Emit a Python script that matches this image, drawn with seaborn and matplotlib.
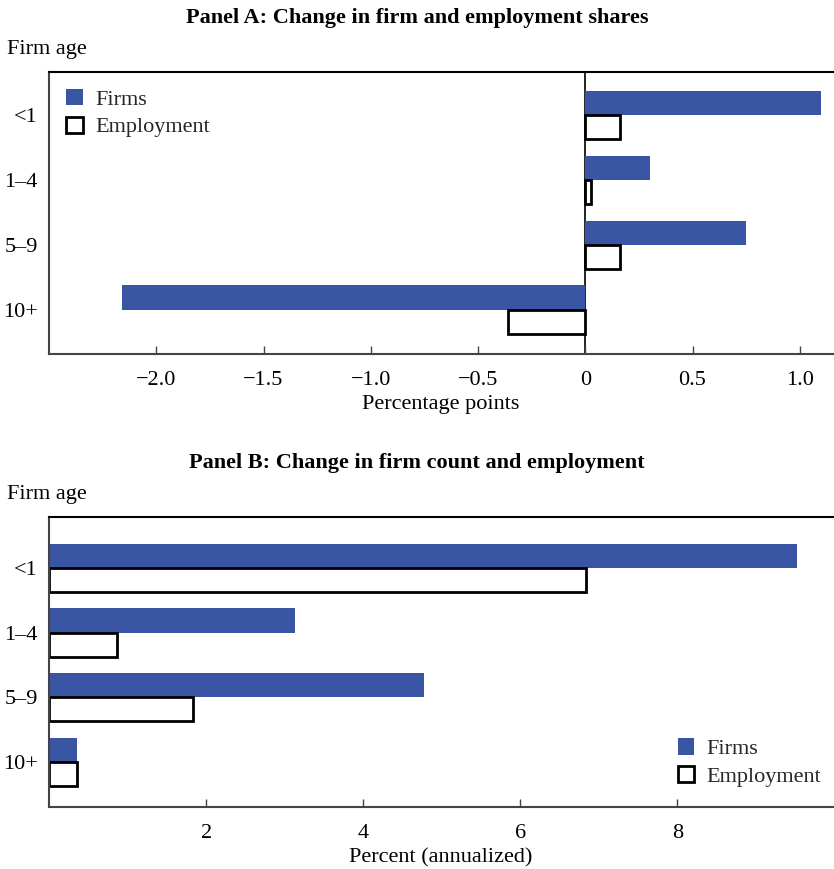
import matplotlib
matplotlib.use("Agg")
import matplotlib.pyplot as plt
from matplotlib.patches import Patch
import seaborn as sns
import pandas as pd

sns.set_theme(style="white")
plt.rcParams["font.family"] = ["Liberation Serif", "DejaVu Serif"]

ages = ["<1", "1\u20134", "5\u20139", "10+"]
series = ["Firms", "Employment"]

# Panel A: change in shares (percentage points)
share_firms = [1.10, 0.30, 0.75, -2.16]
share_emp = [0.16, 0.025, 0.16, -0.36]

# Panel B: change in counts (percent, annualized)
count_firms = [9.52, 3.13, 4.77, 0.36]
count_emp = [6.83, 0.86, 1.83, 0.36]

BLUE = "#3A55A4"
SPINE = "#444444"
FS = 16


def long_frame(firms, emp):
    return pd.DataFrame({
        "age": ages * 2,
        "series": [series[0]] * len(ages) + [series[1]] * len(ages),
        "value": list(firms) + list(emp),
    })


def draw_panel(ax, df, title, xlabel):
    sns.barplot(data=df, y="age", x="value", hue="series", order=ages,
                hue_order=series, orient="h", width=0.75,
                palette={"Firms": BLUE, "Employment": "white"},
                saturation=1, legend=False, ax=ax)
    firm_bars, emp_bars = ax.containers[0], ax.containers[1]
    for p in firm_bars:
        p.set_edgecolor("none")
    for p in emp_bars:
        p.set_edgecolor("black")
        p.set_linewidth(2.0)
    ax.set_ylabel("")
    ax.set_xlabel(xlabel, fontsize=FS, labelpad=4, color="black")
    ax.tick_params(axis="y", length=0, labelsize=FS, pad=8, labelcolor="black")
    ax.tick_params(axis="x", direction="in", length=6, width=1,
                   color=SPINE, labelsize=FS, pad=12, bottom=True,
                   labelcolor="black")
    for side in ["left", "bottom", "top"]:
        ax.spines[side].set_visible(True)
        ax.spines[side].set_color(SPINE)
        ax.spines[side].set_linewidth(1.5)
    ax.spines["top"].set_color("black")
    ax.spines["right"].set_visible(False)
    ax.grid(False)
    pos = ax.get_position()
    fig.text(0.5, pos.y1 + 0.0625, title, ha="center", va="center",
             fontsize=FS, fontweight="bold", color="black")
    fig.text(0.008, pos.y1 + 0.0255, "Firm age", ha="left", va="center",
             fontsize=FS, color="black")


fig = plt.figure(figsize=(8.34, 8.69), dpi=100)
ax_a = fig.add_axes([0.0588, 0.5926, 0.94, 0.3245])
ax_b = fig.add_axes([0.0588, 0.0713, 0.94, 0.3337])

draw_panel(ax_a, long_frame(share_firms, share_emp),
           "Panel A: Change in firm and employment shares", "Percentage points")
ax_a.set_xlim(-2.5, 1.155)
ax_a.set_ylim(3.68, -0.66)
ax_a.set_xticks([-2.0, -1.5, -1.0, -0.5, 0, 0.5, 1.0])
ax_a.set_xticklabels(["\u22122.0", "\u22121.5", "\u22121.0", "\u22120.5", "0", "0.5", "1.0"])
ax_a.axvline(0, color="black", lw=1.2, zorder=0.5)

draw_panel(ax_b, long_frame(count_firms, count_emp),
           "Panel B: Change in firm count and employment", "Percent (annualized)")
ax_b.set_xlim(0, 9.98)
ax_b.set_ylim(3.70, -0.79)
ax_b.set_xticks([2, 4, 6, 8])
ax_b.set_xticklabels(["2", "4", "6", "8"])

handles = [Patch(facecolor=BLUE, edgecolor="none", label="Firms"),
           Patch(facecolor="white", edgecolor="black", linewidth=2.0, label="Employment")]
legend_kw = dict(frameon=False, fontsize=FS, handlelength=0.75, handleheight=0.75,
                 handletextpad=0.55, labelspacing=0.3, borderaxespad=0,
                 borderpad=0)
ax_a.legend(handles=handles, loc="upper left", bbox_to_anchor=(0.022, 0.94),
            **legend_kw)
ax_b.legend(handles=handles, loc="lower right", bbox_to_anchor=(0.985, 0.07),
            **legend_kw)

fig.savefig("out.png", dpi=100)
